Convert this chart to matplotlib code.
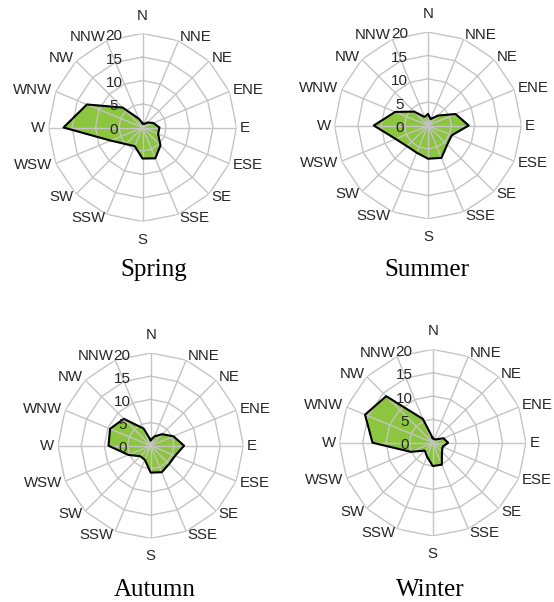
import numpy as np
import matplotlib.pyplot as plt

directions = ["N", "NNE", "NE", "ENE", "E", "ESE", "SE", "SSE",
              "S", "SSW", "SW", "WSW", "W", "WNW", "NW", "NNW"]
seasons = ["Spring", "Summer", "Autumn", "Winter"]
r_ticks = [0, 5, 10, 15, 20]

spring = [0.9, 0.8, 1.5, 2.5, 3.6, 3.6, 5.4, 7.1, 6.6, 4.3, 5.0, 7.3, 16.8, 12.8, 6.0, 2.0]
summer = [2.4, 1.5, 3.0, 6.4, 8.7, 5.5, 5.8, 7.5, 7.1, 6.3, 6.3, 7.5, 11.6, 7.6, 4.2, 2.0]
autumn = [1.2, 2.2, 3.5, 5.3, 7.2, 5.7, 5.6, 6.2, 5.8, 3.3, 3.2, 5.2, 9.1, 9.5, 8.2, 4.0]
winter = [1.0, 0.8, 1.0, 2.5, 3.3, 2.3, 2.8, 5.1, 5.0, 3.2, 2.4, 5.1, 12.9, 15.7, 14.1, 5.5]
values = [spring, summer, autumn, winter]

W, H = 554, 602
fig = plt.figure(figsize=(W / 100, H / 100), dpi=100)

# panel centres and radii in pixels
centres = [(142.5, 127.5), (428.0, 125.5), (150.7, 445.7), (432.7, 442.7)]
radius = [94, 93.5, 92.7, 93.3]
title_pos = [(154, 270), (427, 270), (155, 590), (430, 590)]

grid_col = "#c4c4c4"
text_col = "#262626"
green = "#8cc63f"
px = 0.72  # points per pixel at dpi 100

ang = np.linspace(0, 2 * np.pi, len(directions), endpoint=False)
ang_c = np.append(ang, ang[0])

for k, season in enumerate(seasons):
    cx, cy = centres[k]
    R = radius[k]
    ax = fig.add_axes([(cx - R) / W, (H - cy - R) / H, 2 * R / W, 2 * R / H],
                      projection="polar")
    ax.set_theta_zero_location("N")
    ax.set_theta_direction(-1)
    ax.set_ylim(0, 20)
    ax.set_xticks(ang)
    ax.set_xticklabels([])
    ax.set_yticks([])
    ax.grid(False)
    ax.spines["polar"].set_visible(False)
    ax.patch.set_visible(False)

    v = np.array(values[k])
    v_c = np.append(v, v[0])
    ax.fill(ang_c, v_c, color=green, zorder=1)

    # spokes and polygon rings
    for a in ang:
        ax.plot([a, a], [0, 20], color=grid_col, lw=1, zorder=2)
    for lvl in r_ticks[1:]:
        ax.plot(ang_c, [lvl] * len(ang_c), color=grid_col, lw=1, zorder=2)

    ax.plot(ang_c, v_c, color="black", lw=1.5, zorder=3)

    # direction labels
    for a, name in zip(ang, directions):
        dx, dy = np.sin(a), np.cos(a)
        if abs(dx) < 0.01:
            ha = "center"
            va = "bottom" if dy > 0 else "top"
            off = (0, 11 * px * np.sign(dy))
        else:
            ha = "left" if dx > 0 else "right"
            va = "center"
            off = (3.5 * px * dx, 4 * px * dy)
        ax.annotate(name, xy=(a, 20), xytext=off, textcoords="offset points",
                    ha=ha, va=va, fontsize=10.8, color=text_col,
                    family="Liberation Sans", annotation_clip=False)

    # radial tick labels
    for t in r_ticks:
        ax.annotate(str(t), xy=(0, t), xytext=(-28.5 * px, -2.5 * px),
                    textcoords="offset points", ha="center", va="center",
                    fontsize=11, color=text_col, family="Liberation Sans",
                    annotation_clip=False, zorder=4)

    tx, ty = title_pos[k]
    fig.text(tx / W, 1 - ty / H, season, ha="center", va="center",
             fontsize=18, family="Liberation Serif", color="black")

fig.savefig("out.png", dpi=100)
